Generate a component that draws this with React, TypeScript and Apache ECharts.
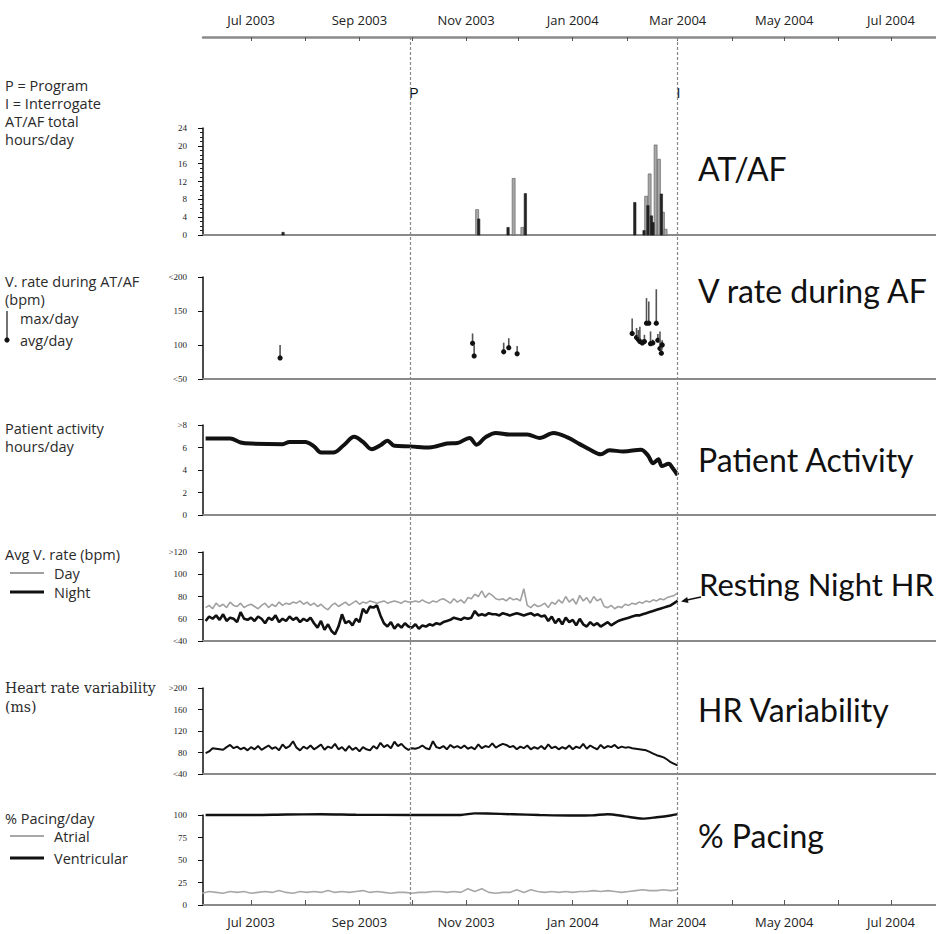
import React, { useEffect, useRef } from "react";
import * as echarts from "echarts";

// ---- Time axis (x = days since 1 Jun 2003) ----
const X_MIN = 2.5;
const X_MAX = 421.8;
const monthStartDays = [30, 61, 92, 122, 153, 183, 214, 245, 274, 305, 335, 366, 396];
const monthLabelDays = [30, 92, 153, 214, 274, 335, 396];
const monthLabels = ["Jul 2003", "Sep 2003", "Nov 2003", "Jan 2004", "Mar 2004", "May 2004", "Jul 2004"];
const eventDays = [121, 274];
const eventLabels = ["P", "I"];

// ---- AT/AF total hours/day: [day, hours] ----
const atafDark = [
  [48.3, 0.6], [160.2, 3.6], [177.0, 1.7], [186.9, 9.3],
  [249.5, 7.3], [254.8, 1.0], [257.0, 6.6], [259.0, 4.3], [259.9, 2.8], [264.7, 9.2],
];
const atafLight = [
  [159.3, 5.7], [180.2, 12.7], [185.2, 1.7],
  [256.0, 8.7], [258.0, 13.7], [261.4, 20.2], [263.3, 17.0], [265.6, 5.1], [267.1, 1.3],
];

// ---- V rate during AT/AF: [day, avg/day, max/day] ----
const vRate = [
  [46.6, 81, 100],
  [156.7, 102.5, 117], [157.6, 84, 100],
  [174.5, 90, 103.4], [177.4, 96, 110], [182.2, 87, 98.5],
  [248.0, 117, 139], [250.5, 111, 125], [251.5, 108, 122], [252.4, 105, 127],
  [253.8, 103, 108], [255.0, 105, 115], [256.2, 132, 169], [257.5, 132, 164],
  [258.5, 102, 120], [259.8, 103, 108], [261.8, 132, 182], [262.7, 107, 116],
  [263.9, 95, 120], [264.7, 88, 105], [265.2, 100, 107],
];

// ---- Patient activity hours/day: [day, hours] ----
const activity = [
  [4, 6.8], [18, 6.8], [24, 6.45], [30, 6.35], [48, 6.3], [52, 6.5], [61, 6.5], [66, 6.1],
  [70, 5.55], [77, 5.55], [83, 6.2], [89, 6.95], [94, 6.5], [99, 5.85], [104, 6.2], [108, 6.6],
  [112, 6.15], [121, 6.1], [132, 6.0], [142, 6.35], [148, 6.4], [155, 6.85], [159, 6.25],
  [164, 6.9], [170, 7.3], [178, 7.15], [188, 7.15], [195, 6.85], [203, 7.3], [211, 6.9],
  [218, 6.3], [224, 5.8], [230, 5.4], [235, 5.75], [243, 5.65], [253, 5.8], [257, 5.3],
  [260, 4.6], [263, 4.95], [265, 4.35], [269, 4.55], [271, 4.2], [274, 3.55],
];

// ---- Daily-ish series, one value every 2 days starting day 4 ----
const GRID_START = 4;
const GRID_STEP = 2;
const nightHR = [
  58, 62, 60, 63, 59, 64, 58, 61, 60, 57, 66, 60, 59, 61, 58, 62, 60, 56, 61, 59, 63, 57, 60, 58, 62, 59, 61, 57, 60, 58, 61,
  56, 52, 58, 50, 55, 49, 46, 53,
  64, 56, 58, 54, 60, 57,
  69, 65, 71, 70, 72, 63,
  56, 53, 57, 51, 55, 52, 56, 53,
  52, 55, 51, 54, 53, 55, 54, 56, 55, 57,
  58, 59, 61, 60, 59, 61, 60, 61,
  67,
  63, 64, 63, 65, 64, 64, 63, 65, 64, 63, 64, 65, 64, 63, 64, 65, 63, 64, 62, 63,
  58, 62, 56, 60, 55, 61, 57, 59, 54, 60,
  55, 53, 57, 54, 56, 53, 55, 57, 54, 56,
  58, 59, 60, 61, 62, 63, 63, 64, 65, 66, 67, 68, 69, 70, 71, 72, 74, 76,
];
const dayHR = [
  70, 72, 69, 74, 71, 73, 70, 75, 72, 71, 74, 70, 72, 73, 71, 69, 72, 74, 70, 73, 71, 75, 72, 74, 73, 75, 74, 76, 73, 75, 72,
  74, 71, 73, 70, 68, 72, 74, 71, 73, 75, 72, 74, 76, 73,
  75, 74, 76, 75, 74, 75, 76, 74, 75, 76, 75, 74, 76, 75,
  75, 76, 75, 77, 75, 74, 76, 75, 77, 78,
  76, 74, 78, 75, 77, 74, 79, 78,
  82, 80, 85, 79, 83, 81, 78,
  77, 78, 76, 79, 77, 78, 76,
  87,
  72, 70, 73, 71, 72, 74, 70, 75, 73,
  77, 74, 80, 75, 78, 73, 81, 76, 79, 74, 80, 76, 78,
  71, 70, 72, 69, 71, 70, 73,
  72, 74, 73, 75, 74, 76, 75, 77, 76, 78, 77, 79, 80, 81, 83,
];
const hrv = [
  79, 82, 88, 87, 86, 85, 90, 94, 88, 91, 86, 89, 84, 90,
  86, 92, 85, 89, 93, 87, 90, 84, 95, 88, 92, 101, 89, 84, 91,
  87, 93, 86, 90, 95, 85, 91, 88, 96, 86, 90, 83, 92, 85, 89,
  82, 90, 86, 84, 92, 87, 98, 90, 94, 88, 100, 92, 96, 89, 85,
  88, 87, 89, 93, 88, 86, 101, 90, 88, 92, 86, 94, 89, 92, 88,
  93, 87, 90, 86, 95, 88, 92, 90, 97, 89, 93, 96, 94, 90, 92,
  86, 91, 88, 93, 86, 90, 87, 92, 86, 95, 88, 91, 86, 90, 87,
  93, 86, 91, 88, 96, 87, 93, 89, 86, 94, 88, 92, 90, 94, 88,
  91, 89, 90, 88, 87, 86, 85, 84, 81, 78, 75, 73, 71, 67, 62, 59, 56,
];

// ---- % pacing ----
const ventricular = [
  [4, 100], [30, 100], [50, 100.5], [70, 100.8], [90, 100.3], [120, 100], [150, 100],
  [158, 101.8], [165, 101.6], [180, 100.8], [195, 100], [215, 99.4], [225, 99.6],
  [234, 100.9], [244, 98.5], [254, 96], [262, 97.5], [270, 99.5], [274, 101],
];
const ATRIAL_START = 2;
const ATRIAL_STEP = 4;
const atrial = [
  13, 15, 14, 13, 15, 14, 15, 13, 14, 15,
  14, 16, 14, 13, 15, 14, 15, 14, 16, 14,
  15, 14, 15, 16, 14, 15, 14, 13, 14, 14,
  13, 14, 14, 15, 15, 14, 15, 14, 18, 15,
  18, 14, 13, 14, 14, 17, 14, 17, 15, 14,
  15, 14, 15, 14, 15, 15, 16, 15, 16, 15,
  14, 15, 16, 17, 16, 16, 17, 16, 17,
];

const onGrid = (vals: number[], start: number, step: number) => vals.map((v, i) => [start + step * i, v]);

const SANS = "'Open Sans', Lato, sans-serif";
const TITLE = "Lato, 'Open Sans', sans-serif";
const SERIF = "'DejaVu Serif', 'Liberation Serif', serif";
const TICKSERIF = "'Liberation Serif', 'DejaVu Serif', serif";
const LBL = 14.5;

function panelX(gridIndex: number, bottomLabels = false) {
  return {
    type: "value",
    gridIndex,
    min: X_MIN,
    max: X_MAX,
    position: "bottom",
    axisLine: { show: true, onZero: false, lineStyle: { color: "#8a8a8a", width: 2 } },
    axisTick: bottomLabels
      ? { show: true, inside: true, length: 5, customValues: monthStartDays, lineStyle: { color: "#555", width: 1 } }
      : { show: false },
    axisLabel: bottomLabels
      ? {
          show: true,
          customValues: monthLabelDays,
          margin: 10,
          fontSize: 13,
          fontFamily: SANS,
          color: "#222",
          formatter: (v: number) => monthLabels[monthLabelDays.indexOf(Math.round(v))] ?? "",
        }
      : { show: false },
    splitLine: { show: false },
  };
}

function panelY(gridIndex: number, min: number, max: number, interval: number, fmt?: (v: number) => string, minor = false) {
  return {
    type: "value",
    gridIndex,
    min,
    max,
    interval,
    axisLine: { show: true, onZero: false, lineStyle: { color: "#111", width: 1.5 } },
    axisTick: { show: true, length: 5, lineStyle: { color: "#111", width: 1 } },
    minorTick: minor ? { show: true, splitNumber: 4, length: 3, lineStyle: { color: "#222", width: 1 } } : { show: false },
    axisLabel: {
      show: true,
      margin: 16,
      fontSize: 9,
      fontFamily: TICKSERIF,
      color: "#222",
      formatter: fmt ?? ((v: number) => String(v)),
    },
    splitLine: { show: false },
    minorSplitLine: { show: false },
  };
}

function txt(x: number, y: number, text: string, fontSize: number, family = SANS, fill = "#2a2a2a") {
  return {
    type: "text",
    x,
    y,
    silent: true,
    style: { text, fontSize, fontFamily: family, fill, align: "left", verticalAlign: "middle" },
  };
}
function ln(x1: number, y1: number, x2: number, y2: number, stroke: string, lineWidth: number) {
  return { type: "line", silent: true, shape: { x1, y1, x2, y2 }, style: { stroke, lineWidth } };
}

export default function App() {
  const ref = useRef<HTMLDivElement>(null);
  useEffect(() => {
    if (!ref.current) return;
    const chart = echarts.init(ref.current, undefined, { renderer: "svg" });

    const barRender = (w: number, fill: string, stroke: string) => (params: any, api: any) => {
      const x = api.value(0);
      const v = api.value(1);
      const p0 = api.coord([x, 0]);
      const p1 = api.coord([x, v]);
      return {
        type: "rect",
        shape: { x: p0[0] - w / 2, y: p1[1], width: w, height: p0[1] - p1[1] },
        style: { fill, stroke, lineWidth: 0.6 },
      };
    };

    const option: any = {
      animation: false,
      backgroundColor: "#ffffff",
      grid: [
        { left: 203, right: 0, top: 37, bottom: 29 },
        { left: 203, right: 0, top: 128, height: 107 },
        { left: 203, right: 0, top: 277, height: 102 },
        { left: 203, right: 0, top: 425, height: 90 },
        { left: 203, right: 0, top: 552, height: 89 },
        { left: 203, right: 0, top: 688, height: 86 },
        { left: 203, right: 0, top: 815, height: 90 },
      ],
      xAxis: [
        {
          type: "value",
          gridIndex: 0,
          min: X_MIN,
          max: X_MAX,
          position: "top",
          axisLine: { show: true, onZero: false, lineStyle: { color: "#8a8a8a", width: 2.5 } },
          axisTick: { show: true, inside: true, length: 4, customValues: monthStartDays, lineStyle: { color: "#555", width: 1 } },
          axisLabel: {
            show: true,
            customValues: monthLabelDays,
            margin: 11,
            fontSize: 13,
            fontFamily: SANS,
            color: "#222",
            formatter: (v: number) => monthLabels[monthLabelDays.indexOf(Math.round(v))] ?? "",
          },
          splitLine: { show: false },
        },
        panelX(1),
        panelX(2),
        panelX(3),
        panelX(4),
        panelX(5),
        panelX(6, true),
      ],
      yAxis: [
        { type: "value", gridIndex: 0, min: 0, max: 1, show: false },
        panelY(1, 0, 24, 4, undefined, true),
        panelY(2, 50, 200, 50, (v) => (v === 200 ? "<200" : v === 50 ? "<50" : String(v))),
        panelY(3, 0, 8, 2, (v) => (v === 8 ? ">8" : String(v))),
        panelY(4, 40, 120, 20, (v) => (v === 120 ? ">120" : v === 40 ? "<40" : String(v))),
        panelY(5, 40, 200, 40, (v) => (v === 200 ? ">200" : v === 40 ? "<40" : String(v))),
        panelY(6, 0, 100, 25),
      ],
      series: [
        {
          type: "custom",
          xAxisIndex: 0,
          yAxisIndex: 0,
          data: eventDays.map((d) => [d, 0.9355]),
          encode: { x: 0, y: 1 },
          renderItem: (params: any, api: any) => {
            const p = api.coord([api.value(0), api.value(1)]);
            return {
              type: "text",
              x: p[0] - 1,
              y: p[1],
              style: {
                text: eventLabels[params.dataIndex],
                font: "14px 'Liberation Serif', serif",
                fontSize: 14,
                fill: "#111",
                align: "left",
                verticalAlign: "middle",
              },
            };
          },
          markLine: {
            silent: true,
            symbol: "none",
            label: { show: false },
            lineStyle: { type: [3, 2], color: "#888", width: 1.2 },
            data: eventDays.map((d) => ({ xAxis: d })),
          },
        },
        {
          type: "custom",
          xAxisIndex: 1,
          yAxisIndex: 1,
          data: atafLight,
          encode: { x: 0, y: 1 },
          renderItem: barRender(3, "#a8a8a8", "#555"),
        },
        {
          type: "custom",
          xAxisIndex: 1,
          yAxisIndex: 1,
          data: atafDark,
          encode: { x: 0, y: 1 },
          renderItem: barRender(2.4, "#222", "#222"),
        },
        {
          type: "custom",
          xAxisIndex: 2,
          yAxisIndex: 2,
          data: vRate,
          encode: { x: 0, y: [1, 2] },
          renderItem: (params: any, api: any) => {
            const x = api.value(0);
            const a = api.coord([x, api.value(1)]);
            const m = api.coord([x, api.value(2)]);
            return {
              type: "group",
              children: [
                { type: "line", shape: { x1: m[0], y1: m[1], x2: a[0], y2: a[1] }, style: { stroke: "#555", lineWidth: 1.6 } },
                { type: "circle", shape: { cx: a[0], cy: a[1], r: 2.6 }, style: { fill: "#111" } },
              ],
            };
          },
        },
        {
          type: "line",
          xAxisIndex: 3,
          yAxisIndex: 3,
          data: activity,
          smooth: 0.35,
          showSymbol: false,
          symbol: "none",
          lineStyle: { color: "#111", width: 4 },
        },
        {
          type: "line",
          xAxisIndex: 4,
          yAxisIndex: 4,
          data: onGrid(dayHR, GRID_START, GRID_STEP),
          showSymbol: false,
          symbol: "none",
          lineStyle: { color: "#a0a0a0", width: 1.6 },
        },
        {
          type: "line",
          xAxisIndex: 4,
          yAxisIndex: 4,
          data: onGrid(nightHR, GRID_START, GRID_STEP),
          showSymbol: false,
          symbol: "none",
          lineStyle: { color: "#111", width: 2.6 },
        },
        {
          type: "line",
          xAxisIndex: 5,
          yAxisIndex: 5,
          data: onGrid(hrv, GRID_START, GRID_STEP),
          showSymbol: false,
          symbol: "none",
          lineStyle: { color: "#111", width: 2 },
        },
        {
          type: "line",
          xAxisIndex: 6,
          yAxisIndex: 6,
          data: onGrid(atrial, ATRIAL_START, ATRIAL_STEP),
          showSymbol: false,
          symbol: "none",
          lineStyle: { color: "#a8a8a8", width: 1.6 },
        },
        {
          type: "line",
          xAxisIndex: 6,
          yAxisIndex: 6,
          data: ventricular,
          smooth: 0.3,
          clip: false,
          showSymbol: false,
          symbol: "none",
          lineStyle: { color: "#111", width: 2.4 },
        },
      ],
      graphic: [
        txt(5, 85, "P = Program", LBL),
        txt(5, 103, "I = Interrogate", LBL),
        txt(5, 121, "AT/AF total", LBL),
        txt(5, 139, "hours/day", LBL),
        txt(5, 281, "V. rate during AT/AF", LBL),
        txt(5, 299, "(bpm)", LBL),
        ln(7, 311, 7, 338, "#444", 1.5),
        { type: "circle", silent: true, shape: { cx: 7, cy: 340, r: 2.6 }, style: { fill: "#111" } },
        txt(20, 318, "max/day", LBL),
        txt(20, 340, "avg/day", LBL),
        txt(5, 428, "Patient activity", LBL),
        txt(5, 446, "hours/day", LBL),
        txt(5, 554, "Avg V. rate (bpm)", LBL),
        ln(10, 573, 44, 573, "#a0a0a0", 2),
        txt(54, 573, "Day", LBL),
        ln(10, 592, 44, 592, "#111", 3),
        txt(54, 592, "Night", LBL),
        txt(5, 688, "Heart rate variability", 14, SERIF),
        txt(5, 707, "(ms)", 14, SERIF),
        txt(5, 818, "% Pacing/day", LBL),
        ln(10, 836, 44, 836, "#a8a8a8", 2),
        txt(54, 836, "Atrial", LBL),
        ln(10, 858, 44, 858, "#111", 3),
        txt(54, 858, "Ventricular", LBL),
        // big panel titles
        txt(698, 168, "AT/AF", 32, TITLE, "#111"),
        txt(698, 290, "V rate during AF", 32, TITLE, "#111"),
        txt(698, 459, "Patient Activity", 32, TITLE, "#111"),
        txt(699, 584, "Resting Night HR", 31, TITLE, "#111"),
        txt(698, 709, "HR Variability", 32, TITLE, "#111"),
        txt(698, 835, "% Pacing", 32, TITLE, "#111"),
        ln(701, 597, 687, 600, "#111", 1.6),
        { type: "polygon", silent: true, shape: { points: [[681, 601.5], [687.2, 597.1], [688.5, 602.9]] }, style: { fill: "#111" } },
      ],
    };

    chart.setOption(option);
    return () => chart.dispose();
  }, []);

  return <div ref={ref} style={{ position: "absolute", left: 0, top: 0, width: 936, height: 934 }} />;
}
